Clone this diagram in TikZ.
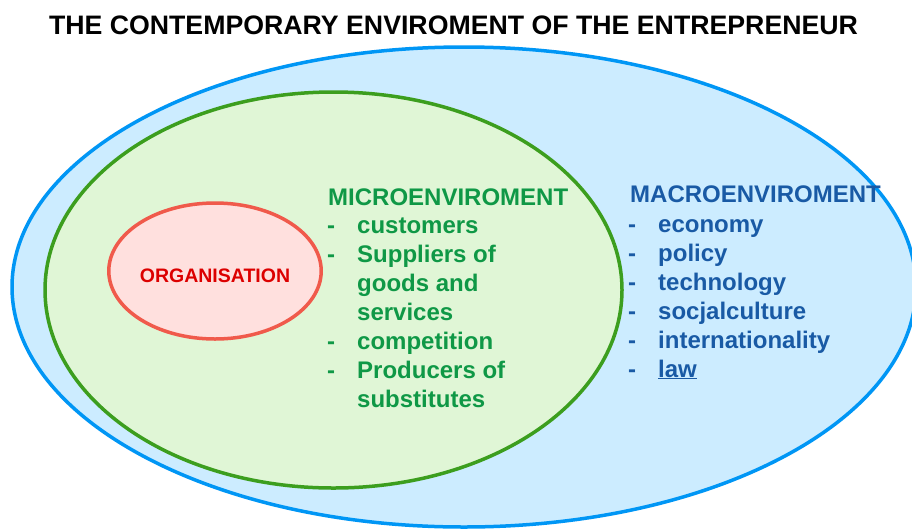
\documentclass[tikz,border=0pt]{standalone}
\usepackage{fontspec}
\setmainfont{Liberation Sans}
\usepackage{xcolor}
\usepackage{tikz}
\usetikzlibrary{positioning,shapes.geometric}
\definecolor{macroline}{RGB}{0,150,245}
\definecolor{macrofill}{RGB}{204,236,255}
\definecolor{macrotext}{RGB}{25,90,165}
\definecolor{microline}{RGB}{60,158,30}
\definecolor{microfill}{RGB}{224,246,214}
\definecolor{microtext}{RGB}{15,152,70}
\definecolor{orgline}{RGB}{240,90,75}
\definecolor{orgfill}{RGB}{255,224,222}
\definecolor{orgtext}{RGB}{220,0,0}
\newcommand{\listfont}{\fontsize{24}{29}\selectfont\bfseries}

\begin{document}
\begin{tikzpicture}[x=1pt,y=-1pt,
  envshape/.style={ellipse,line width=3.5pt,inner sep=0pt},
  head/.style={anchor=base west,inner sep=0pt,font=\listfont},
  envlist/.style={anchor=base west,inner sep=0pt,font=\listfont,align=left}]
\fill[white] (0,0) rectangle (912,528);
\useasboundingbox (0,0) rectangle (912,528);
% title
\node[anchor=base,inner sep=0pt,font=\fontsize{26.7}{32}\selectfont\bfseries] (title) at (453.5,34.3)
  {THE CONTEMPORARY ENVIROMENT OF THE ENTREPRENEUR};
% nested environments
\node[envshape,draw=macroline,fill=macrofill,minimum width=904pt,minimum height=480pt] (macro) at (464,287) {};
\node[envshape,draw=microline,fill=microfill,minimum width=577pt,minimum height=396pt] (micro) at (333.5,290) {};
\node[envshape,draw=orgline,fill=orgfill,minimum width=209pt,minimum height=136pt,
  text=orgtext,font=\fontsize{19.5}{23}\selectfont\bfseries,
  text height=22pt,text depth=0pt] (org) at (215,271) {ORGANISATION};
% microenvironment factors
\node[head,text=microtext] (microhead) at (328,205) {MICROENVIROMENT};
\node[envlist,text=microtext] (microlist) at (327,233) {%
  \begin{tabular}[t]{@{}l@{\hspace{22pt}}l@{}}
  - & customers\\
  - & Suppliers of\\
    & goods and\\
    & services\\
  - & competition\\
  - & Producers of\\
    & substitutes
  \end{tabular}};
% macroenvironment factors
\node[head,text=macrotext] (macrohead) at (630,202) {MACROENVIROMENT};
\node[envlist,text=macrotext] (macrolist) at (628,232) {%
  \begin{tabular}[t]{@{}l@{\hspace{22pt}}l@{}}
  - & economy\\
  - & policy\\
  - & technology\\
  - & socjalculture\\
  - & internationality\\
  - & \underline{law}
  \end{tabular}};
\end{tikzpicture}
\end{document}
